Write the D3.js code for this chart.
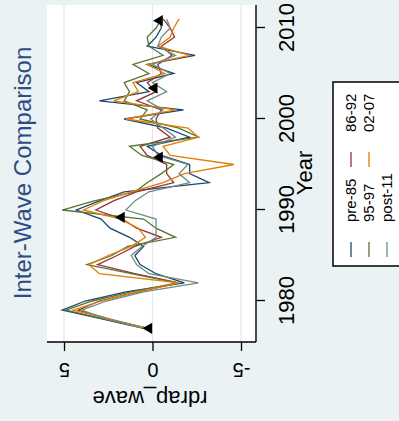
<!DOCTYPE html>
<html><head><meta charset="utf-8">
<script src="https://cdn.jsdelivr.net/npm/d3@7"></script>
<style>body{margin:0;background:#eaf2f3;} svg{display:block}</style>
</head><body>
<svg id="c" width="399" height="421"></svg>
<script>
const years = [1977,1978,1979,1980,1981,1982,1983,1984,1985,1986,1987,1988,1989,1990,1991,1992,1993,1994,1995,1996,1997,1998,1999,2000,2001,2002,2003,2004,2005,2006,2007,2008,2009,2010,2011];
const pre85  = [0.5,2.8,5.1,3.8,1.5,-1.8,-0.2,0.7,1.0,0.5,1.3,2.4,2.9,4.3,3.0,1.6,-3.2,-2.1,-2.1,-0.5,0.3,-2.1,-0.8,1.6,-1.75,3.0,0.2,0.9,-1.2,0.3,-2.4,0.3,-0.2,-0.5,-0.4];
const w86_92 = [0.3,2.4,4.2,3.0,0.8,-1.5,1.0,3.1,2.0,1.0,-0.5,0.9,1.7,3.2,2.2,0.9,-1.2,-0.8,-0.8,0.3,0.7,-1.0,-0.3,-0.2,-0.5,0.9,-0.2,0.3,-0.5,-0.3,-1.1,-0.5,-1.25,-1.0,-0.6];
const w95_97 = [0.4,2.7,4.9,3.4,1.2,-1.4,1.2,3.7,2.3,1.4,-1.3,-0.2,0.5,5.1,3.3,1.0,0.3,-0.5,-1.2,0.6,1.3,-2.6,-1.5,0.7,0.3,1.6,1.3,1.6,0.2,1.1,-0.6,0.2,0.3,-0.2,-0.5];
const w02_07 = [0.5,2.4,4.5,2.9,0.9,-1.5,3.0,3.6,2.5,1.2,0.4,0.8,1.8,3.9,2.8,1.2,-0.6,-1.8,-4.6,-1.0,-0.6,-2.6,-2.0,1.5,-1.3,2.2,0.8,1.1,-0.7,0.3,-2.1,-0.3,-1.0,-1.2,-1.5];
const post11 = [0.2,2.6,4.0,2.6,0.5,-2.6,0.2,0.9,1.2,0.6,-0.2,-0.2,-0.2,1.5,1.0,0.2,-2.1,-1.5,-2.0,-0.3,0.0,-1.3,-0.6,0.1,-0.6,0.3,-0.8,0.0,-1.0,0.0,-1.3,-0.3,-0.5,-1.0,-0.8];
const markYears = [1977,1989.2,1995.8,2003.4,2010.8];
const markVals  = [0.2,1.75,-0.4,-0.1,-0.4];
const seriesNames = ["pre-85","86-92","95-97","02-07","post-11"];
const seriesColors = ["#1a476f","#90353b","#55752f","#e37e00","#6e8e84"];
const yearTicks = [1980,1990,2000,2010];
const valueTicks = [5,0,-5];
const valueTickLabels = ["5","0","-5"];
const titleText = "Inter-Wave Comparison";
const xTitle = "Year";
const yTitle = "rdrap_wave";

const seriesData = [pre85,w86_92,w95_97,w02_07,post11];
const FONT = "'Liberation Sans', Arial, sans-serif";

const svg = d3.select("#c");
svg.append("rect").attr("width",399).attr("height",421).attr("fill","#eaf2f3");
// draw the chart in its original (unrotated) frame, then rotate it 90deg counter-clockwise
const g = svg.append("g").attr("transform","translate(0,421) rotate(-90)");

const x = d3.scaleLinear().domain([1980,2010]).range([120,393]);
const y = d3.scaleLinear().domain([5,-5]).range([64,241]);

// plot region
g.append("rect").attr("x",79).attr("y",47).attr("width",337).attr("height",209).attr("fill","#fff");
g.selectAll("line.grid").data(valueTicks).join("line").attr("class","grid")
  .attr("x1",79).attr("x2",416).attr("y1",d=>y(d)).attr("y2",d=>y(d))
  .attr("stroke","#dfe8ee").attr("stroke-width",1.2);

// lines
const line = d3.line().x((d,i)=>x(years[i])).y(d=>y(d));
seriesData.forEach((s,k)=>{
  g.append("path").datum(s).attr("d",line).attr("fill","none")
   .attr("stroke",seriesColors[k]).attr("stroke-width",1.3).attr("stroke-linejoin","miter");
});
// triangle markers
g.selectAll("path.mk").data(markVals).join("path").attr("class","mk")
  .attr("d",d3.symbol().type(d3.symbolTriangle).size(55))
  .attr("transform",(d,i)=>`translate(${x(markYears[i])},${y(d)})`)
  .attr("fill","#000");

// year axis (bottom in original frame)
const ax = g.append("g").attr("transform","translate(0,256)")
  .call(d3.axisBottom(x).tickValues(yearTicks).tickSize(9).tickSizeOuter(0).tickFormat(d3.format("d")));
ax.select(".domain").remove();
ax.selectAll(".tick line").attr("stroke","#000").attr("stroke-width",1.3);
ax.selectAll(".tick text").attr("y",38).attr("dy",0).attr("fill","#000")
  .style("font-family",FONT).style("font-size","22px");
g.append("line").attr("x1",79).attr("x2",416).attr("y1",256).attr("y2",256).attr("stroke","#000").attr("stroke-width",1.4);

// value axis (left in original frame)
const ay = g.append("g").attr("transform","translate(79,0)")
  .call(d3.axisLeft(y).tickValues(valueTicks).tickSize(9).tickSizeOuter(0)
    .tickFormat((d,i)=>valueTickLabels[i]));
ay.select(".domain").remove();
ay.selectAll(".tick line").attr("stroke","#000").attr("stroke-width",1.3);
ay.selectAll(".tick text").attr("x",0).attr("dy",0).attr("text-anchor","middle")
  .attr("transform","translate(-21,0) rotate(-90)").attr("fill","#000")
  .style("font-family",FONT).style("font-size","20px");
g.append("line").attr("x1",79).attr("x2",79).attr("y1",47).attr("y2",256).attr("stroke","#000").attr("stroke-width",1.4);

// titles
g.append("text").attr("x",248).attr("y",31).attr("text-anchor","middle")
  .style("font-family",FONT).style("font-size","24px").attr("fill","#2e4c84").text(titleText);
g.append("text").attr("x",248).attr("y",312).attr("text-anchor","middle")
  .style("font-family",FONT).style("font-size","22px").attr("fill","#000").text(xTitle);
g.append("text").attr("transform","translate(30,150) rotate(-90)").attr("text-anchor","middle")
  .style("font-family",FONT).style("font-size","22px").attr("fill","#000").text(yTitle);

// legend
g.append("rect").attr("x",155).attr("y",333).attr("width",184).attr("height",95)
  .attr("fill","#fff").attr("stroke","#000").attr("stroke-width",1.5);
const keyX = [164,254], txtX = [199,289], rowY = [351,369,387];
seriesNames.forEach((n,k)=>{
  const col = k%2, row = Math.floor(k/2);
  g.append("line").attr("x1",keyX[col]).attr("x2",keyX[col]+15)
    .attr("y1",rowY[row]).attr("y2",rowY[row]).attr("stroke",seriesColors[k]).attr("stroke-width",1.3);
  g.append("text").attr("x",txtX[col]).attr("y",rowY[row]+5)
    .style("font-family",FONT).style("font-size","15px").attr("fill","#000").text(n);
});
</script>
</body></html>
